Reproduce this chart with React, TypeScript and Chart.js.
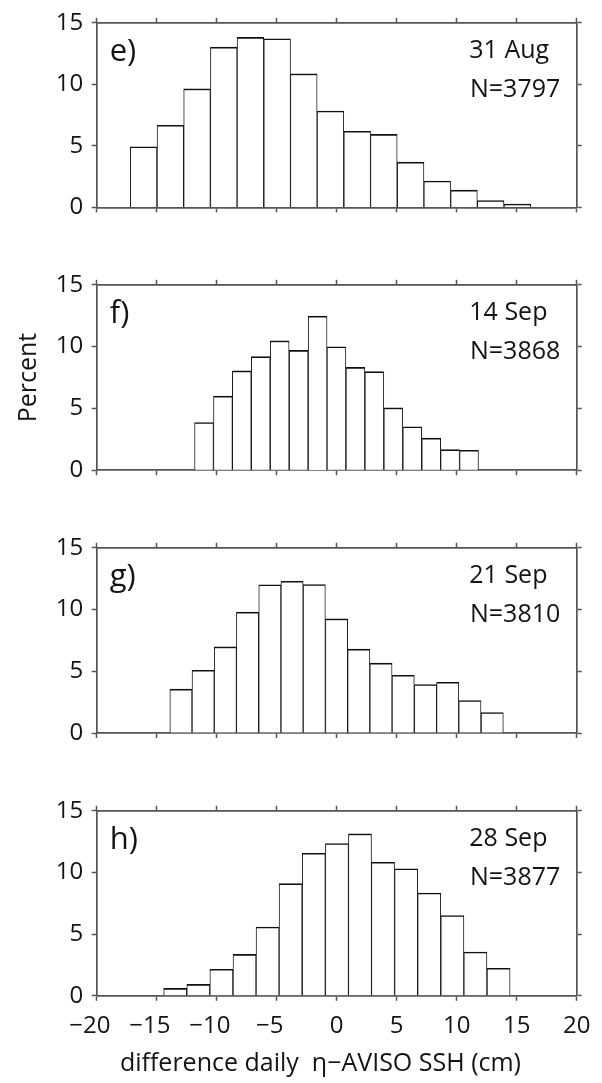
import React, { useEffect, useRef } from 'react';
import { Chart, registerables } from 'chart.js';

Chart.register(...registerables);

// ---------- data ----------
const panelLabels = ['e)', 'f)', 'g)', 'h)'];
const panelDates = ['31 Aug', '14 Sep', '21 Sep', '28 Sep'];
const panelCounts = ['N=3797', 'N=3868', 'N=3810', 'N=3877'];

// bin centres (cm) and percentages per panel
const binsE = [-16.09, -13.86, -11.64, -9.41, -7.19, -4.96, -2.74, -0.52, 1.71, 3.93, 6.16, 8.38, 10.61, 12.83, 15.06];
const percentE = [4.92, 6.67, 9.63, 13.02, 13.81, 13.7, 10.85, 7.83, 6.19, 5.93, 3.68, 2.14, 1.4, 0.56, 0.26];

const binsF = [-11.06, -9.48, -7.91, -6.33, -4.75, -3.17, -1.59, -0.02, 1.56, 3.14, 4.72, 6.3, 7.88, 9.45, 11.03];
const percentF = [3.86, 5.99, 8.03, 9.19, 10.46, 9.69, 12.46, 9.98, 8.32, 7.97, 5.04, 3.51, 2.59, 1.66, 1.61];

const binsG = [-12.98, -11.13, -9.28, -7.43, -5.57, -3.72, -1.87, -0.01, 1.84, 3.69, 5.54, 7.4, 9.25, 11.1, 12.96];
const percentG = [3.55, 5.08, 6.97, 9.79, 12.0, 12.29, 12.03, 9.24, 6.79, 5.66, 4.68, 3.92, 4.11, 2.63, 1.66];

const binsH = [-13.46, -11.53, -9.61, -7.68, -5.76, -3.84, -1.91, 0.02, 1.94, 3.86, 5.79, 7.71, 9.64, 11.56, 13.49];
const percentH = [0.6, 0.92, 2.15, 3.36, 5.57, 9.09, 11.56, 12.35, 13.13, 10.82, 10.3, 8.33, 6.51, 3.55, 2.23];

const allBins = [binsE, binsF, binsG, binsH];
const allPercents = [percentE, percentF, percentG, percentH];

const xMin = -20;
const xMax = 20;
const xStep = 5;
const yMin = 0;
const yMax = 15;
const yStep = 5;
const xTitle = 'difference daily  \u03b7\u2212AVISO SSH (cm)';
const yTitle = 'Percent';

// ---------- layout / style ----------
const FONT = "'Open Sans', 'DejaVu Sans', sans-serif";
const AXIS_COLOR = '#555555';
const TEXT_COLOR = '#141414';
const PAGE_W = 602;
const PAGE_H = 1083;
const PLOT_LEFT = 96.7;
const PLOT_RIGHT = 576.7;
const PLOT_H = 189.4;
const FIRST_TOP = 18;
const PANEL_STEP = 262.8;
const TOP_PAD = 18;

const gridOpts = {
  display: true,
  drawOnChartArea: false,
  drawTicks: true,
  tickLength: 5,
  tickWidth: 1.5,
  tickColor: AXIS_COLOR,
  offset: false,
};
const borderOpts = { display: true, color: AXIS_COLOR, width: 1.7 };

function fmtX(v: number) {
  return v < 0 ? '\u2212' + Math.abs(v) + '\u2007' : String(v);
}

function Panel({ i }: { i: number }) {
  const ref = useRef<HTMLCanvasElement | null>(null);
  const last = i === 3;
  const plotTop = FIRST_TOP + PANEL_STEP * i;
  const canvasTop = Math.floor(plotTop) - TOP_PAD;
  const canvasH = last ? PAGE_H - canvasTop : 250;
  const topH = plotTop - canvasTop;
  const bottomH = canvasH - topH - PLOT_H;

  useEffect(() => {
    if (!ref.current) return;
    const annot = {
      id: 'annot' + i,
      afterDraw(chart: any) {
        const { ctx, chartArea } = chart;
        ctx.save();
        ctx.fillStyle = TEXT_COLOR;
        ctx.textBaseline = 'alphabetic';
        ctx.textAlign = 'left';
        ctx.font = `31px ${FONT}`;
        ctx.fillText(panelLabels[i], chartArea.left + 13, chartArea.top + 38.5);
        ctx.font = `25px ${FONT}`;
        ctx.fillText(panelDates[i], chartArea.right - 107.4, chartArea.top + 35.3);
        ctx.fillText(panelCounts[i], chartArea.right - 106.7, chartArea.top + 73.7);
        ctx.restore();
      },
    };
    const chart = new Chart(ref.current, {
      type: 'bar',
      data: {
        datasets: [
          {
            data: allBins[i].map((x, k) => ({ x, y: allPercents[i][k] })),
            backgroundColor: '#ffffff',
            borderColor: '#111111',
            borderWidth: { top: 1.6, left: 0.95, right: 0.95, bottom: 0 },
            categoryPercentage: 1,
            barPercentage: 1,
            grouped: false,
          } as any,
        ],
      },
      options: {
        responsive: false,
        maintainAspectRatio: false,
        animation: false,
        events: [],
        layout: { padding: 0 },
        plugins: {
          legend: { display: false },
          tooltip: { enabled: false },
          title: { display: false },
        },
        scales: {
          x: {
            type: 'linear',
            position: 'bottom',
            min: xMin,
            max: xMax,
            offset: false,
            grid: gridOpts,
            border: borderOpts,
            ticks: {
              display: last,
              stepSize: xStep,
              autoSkip: false,
              maxRotation: 0,
              minRotation: 0,
              padding: 10.5,
              color: TEXT_COLOR,
              font: { family: FONT, size: 24 },
              callback: (v: any) => fmtX(Number(v)),
            },
            title: last
              ? {
                  display: true,
                  text: xTitle + '     ',
                  color: TEXT_COLOR,
                  font: { family: FONT, size: 25 },
                  padding: { top: 0, bottom: 4 },
                }
              : { display: false },
            afterFit: (s: any) => {
              s.height = bottomH;
            },
          },
          x2: {
            type: 'linear',
            position: 'top',
            min: xMin,
            max: xMax,
            offset: false,
            grid: gridOpts,
            border: borderOpts,
            ticks: { display: false, stepSize: xStep },
            afterFit: (s: any) => {
              s.height = topH;
            },
          },
          y: {
            type: 'linear',
            position: 'left',
            min: yMin,
            max: yMax,
            grid: gridOpts,
            border: borderOpts,
            ticks: {
              stepSize: yStep,
              padding: 8.4,
              color: TEXT_COLOR,
              font: { family: FONT, size: 24 },
            },
            title:
              i === 1
                ? {
                    display: true,
                    text: yTitle,
                    color: TEXT_COLOR,
                    font: { family: FONT, size: 25 },
                    padding: { top: 13.5, bottom: 0 },
                  }
                : { display: false },
            afterFit: (s: any) => {
              s.width = PLOT_LEFT;
            },
          },
          y2: {
            type: 'linear',
            position: 'right',
            min: yMin,
            max: yMax,
            grid: gridOpts,
            border: borderOpts,
            ticks: { display: false, stepSize: yStep },
            afterFit: (s: any) => {
              s.width = PAGE_W - PLOT_RIGHT;
            },
          },
        },
      } as any,
      plugins: [annot],
    });
    return () => chart.destroy();
  }, []);

  return (
    <canvas
      ref={ref}
      width={PAGE_W}
      height={canvasH}
      style={{ position: 'absolute', left: 0, top: canvasTop, width: PAGE_W, height: canvasH, display: 'block' }}
    />
  );
}

export default function App() {
  return (
    <div style={{ position: 'absolute', left: 0, top: 0, width: PAGE_W, height: PAGE_H, background: '#fff' }}>
      {[0, 1, 2, 3].map((i) => (
        <Panel key={i} i={i} />
      ))}
    </div>
  );
}
